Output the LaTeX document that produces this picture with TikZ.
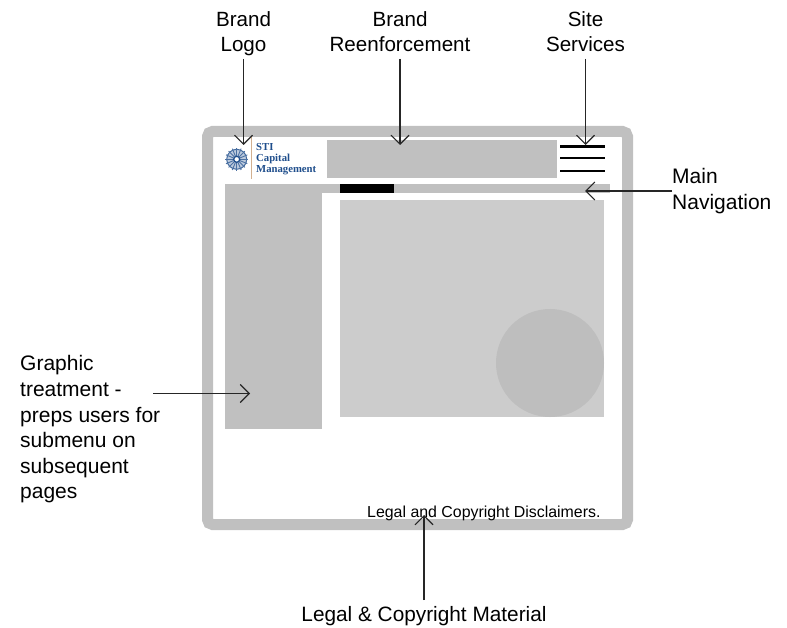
\documentclass[tikz,border=0pt]{standalone}
\usepackage{fontspec}
\setmainfont{Liberation Sans}
\newfontfamily\logofont{Liberation Serif}
\usetikzlibrary{arrows.meta,positioning}
\definecolor{framegray}{HTML}{C0C0C0}
\definecolor{panelgray}{HTML}{CCCCCC}
\definecolor{discgray}{HTML}{BEBEBE}
\definecolor{logoblue}{HTML}{1F4E8C}
\definecolor{ruletan}{HTML}{D2B090}
\tikzset{
  panel/.style={fill=framegray,draw=none,inner sep=0pt,outer sep=0pt,anchor=north west},
  topnote/.style={inner sep=0pt,align=center,anchor=south,text depth=7pt,font=\fontsize{20.6}{25}\selectfont},
  sidenote/.style={inner sep=0pt,align=left,font=\fontsize{21}{25.6}\selectfont},
  logotext/.style={inner sep=0pt,anchor=base west,text=logoblue,font=\logofont\bfseries\fontsize{10.7}{11}\selectfont},
  callout/.style={->,>={Straight Barb[length=9pt,width=18pt,line width=1.1pt]},line width=1.1pt,black!85}
}

\begin{document}
\begin{tikzpicture}[x=1pt,y=-1pt]
\useasboundingbox[fill=white] (0,0) rectangle (787,628);

% page frame
\draw[framegray,line width=11pt,rounded corners=5pt] (207.5,131.5) rectangle (627.5,524.5);

% page contents
\node[panel,minimum width=230pt,minimum height=38pt] (brandbar) at (327,140) {};
\node[panel,minimum width=385pt,minimum height=9pt] (navbar) at (225,184) {};
\node[panel,minimum width=97pt,minimum height=245pt] (sidecol) at (225,184) {};
\node[panel,fill=black,minimum width=54pt,minimum height=9pt] (navactive) at (340,184) {};
\node[panel,fill=panelgray,minimum width=264pt,minimum height=217pt] (mainpanel) at (340,200) {};
\node[circle,fill=discgray,inner sep=0pt,minimum size=108pt] (disc) at (550,363) {};

% site services
\foreach \y/\name in {146.5/serviceA,158/serviceB,171/serviceC}
  \node[panel,fill=black,minimum width=45pt,minimum height=2.6pt,anchor=west] (\name) at (560,\y) {};

% logo
\node[circle,fill=logoblue!30,draw=logoblue!85,line width=1pt,inner sep=0pt,minimum size=20pt] (logoring) at (236.7,159.3) {};
\foreach \a in {0,22.5,...,337.5}
  \draw[logoblue!80,line width=.9pt] (logoring.center) ++(\a:3.5) -- ++(\a:8);
\node[circle,fill=white,draw=logoblue,line width=1.3pt,inner sep=0pt,minimum size=6pt] (logohub) at (236.7,159.3) {};
\draw[ruletan,line width=.9pt] (251.5,137) -- (251.5,179);
\node[logotext] (logoA) at (256,150.7) {STI};
\node[logotext] (logoB) at (256,162) {Capital};
\node[logotext] (logoC) at (256,172.7) {Management};

\node[inner sep=0pt,anchor=base west,font=\fontsize{15.9}{18}\selectfont] (disclaimer) at (367,517.2) {Legal and Copyright Disclaimers.};

% labels
\node[topnote] (brandlogo) at (243.5,59) {Brand\\Logo};
\node[topnote] (brandreen) at (400,59) {Brand\\Reenforcement};
\node[topnote] (siteserv) at (585.5,59) {Site\\Services};
\node[sidenote,anchor=west] (mainnav) at (672,191) {Main\\Navigation};
\node[sidenote,anchor=north west] (graphic) at (20,355.5) {Graphic\\treatment -\\preps users for\\submenu on\\subsequent\\pages};
\node[inner sep=0pt,anchor=north,text height=21pt,font=\fontsize{20.8}{25}\selectfont] (legal) at (424,600) {Legal \& Copyright Material};

% callouts
\coordinate (logotip) at (243.5,145);
\coordinate (reentip) at (400,145);
\coordinate (servtip) at (585.5,145);
\coordinate (navtip) at (585,191);
\coordinate (graphicstart) at (153,393.5);
\coordinate (graphictip) at (250,393.5);
\coordinate (legaltip) at (424,515);
\draw[callout] (brandlogo.south) -- (logotip);
\draw[callout] (brandreen.south) -- (reentip);
\draw[callout] (siteserv.south) -- (servtip);
\draw[callout] (mainnav.west) -- (navtip);
\draw[callout] (graphicstart) -- (graphictip);
\draw[callout] (legal.north) -- (legaltip);
\end{tikzpicture}
\end{document}
